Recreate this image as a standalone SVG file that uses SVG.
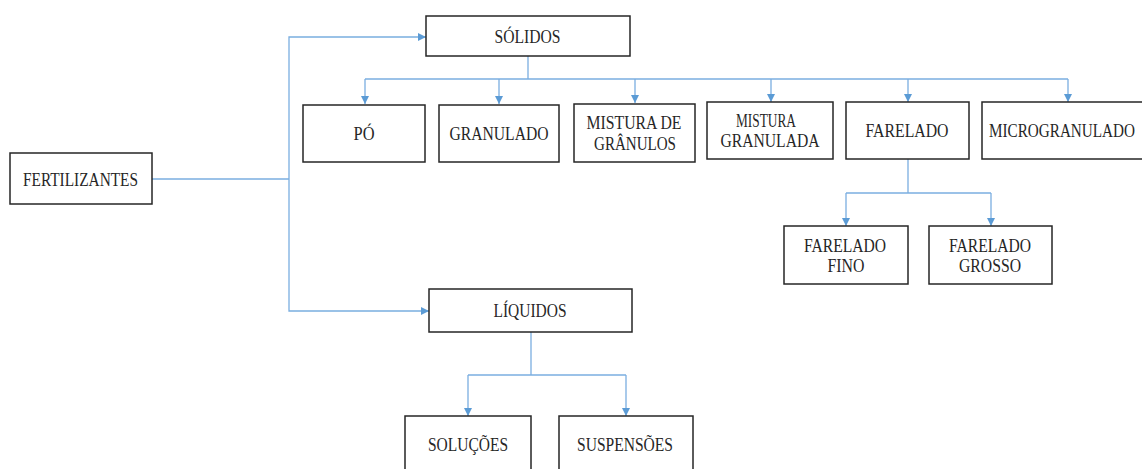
<svg xmlns="http://www.w3.org/2000/svg" width="1142" height="469" viewBox="0 0 1142 469">
<style>
.box{fill:#fff;stroke:#262626;stroke-width:1.5}
.t{font-family:"Liberation Serif","Times New Roman",serif;font-size:18px;fill:#262626;text-anchor:middle}
.c{fill:none;stroke:#7aaee0;stroke-width:1.3}
</style>
<defs>
<marker id="ah" viewBox="0 0 10 10" refX="10" refY="5" markerWidth="8" markerHeight="8" markerUnits="userSpaceOnUse" orient="auto">
<path d="M0,0 L10,5 L0,10 z" fill="#5b9bd5"/>
</marker>
</defs>
<rect width="1142" height="469" fill="#fff"/>
<g id="connectors">
<path class="c" d="M152,179 H289"/>
<path class="c" d="M289,179 V37 H426" marker-end="url(#ah)"/>
<path class="c" d="M289,179 V311 H429" marker-end="url(#ah)"/>
<path class="c" d="M528,56 V79"/>
<path class="c" d="M365,79 H1068"/>
<path class="c" d="M365,79 V104" marker-end="url(#ah)"/>
<path class="c" d="M499,79 V104" marker-end="url(#ah)"/>
<path class="c" d="M635,79 V103" marker-end="url(#ah)"/>
<path class="c" d="M771,79 V102" marker-end="url(#ah)"/>
<path class="c" d="M908,79 V102" marker-end="url(#ah)"/>
<path class="c" d="M1068,79 V102" marker-end="url(#ah)"/>
<path class="c" d="M908,159 V193"/>
<path class="c" d="M846,193 H991"/>
<path class="c" d="M846,193 V226" marker-end="url(#ah)"/>
<path class="c" d="M991,193 V226" marker-end="url(#ah)"/>
<path class="c" d="M531,332 V375"/>
<path class="c" d="M468,375 H626"/>
<path class="c" d="M468,375 V416" marker-end="url(#ah)"/>
<path class="c" d="M626,375 V416" marker-end="url(#ah)"/>
</g>
<g id="fertilizantes"><rect class="box" x="10" y="153" width="142" height="51"/><text class="t" x="80.5" y="186" textLength="115" lengthAdjust="spacingAndGlyphs">FERTILIZANTES</text></g>
<g id="solidos"><rect class="box" x="426" y="16" width="204" height="40"/><text class="t" x="527.5" y="43" textLength="66" lengthAdjust="spacingAndGlyphs">SÓLIDOS</text></g>
<g id="po"><rect class="box" x="303" y="105" width="122" height="57"/><text class="t" x="364" y="140" textLength="21" lengthAdjust="spacingAndGlyphs">PÓ</text></g>
<g id="granulado"><rect class="box" x="439" y="105" width="120" height="57"/><text class="t" x="499" y="140" textLength="99" lengthAdjust="spacingAndGlyphs">GRANULADO</text></g>
<g id="mistura-graos"><rect class="box" x="574" y="104" width="121" height="58"/><text class="t" x="634" y="129" textLength="95" lengthAdjust="spacingAndGlyphs">MISTURA DE</text><text class="t" x="635" y="150" textLength="82" lengthAdjust="spacingAndGlyphs">GRÂNULOS</text></g>
<g id="mistura-granulada"><rect class="box" x="707" y="102" width="126" height="57"/><text class="t" x="766" y="127" textLength="60" lengthAdjust="spacingAndGlyphs">MISTURA</text><text class="t" x="770" y="147" textLength="99" lengthAdjust="spacingAndGlyphs">GRANULADA</text></g>
<g id="farelado"><rect class="box" x="846" y="102" width="123" height="57"/><text class="t" x="907" y="137" textLength="83" lengthAdjust="spacingAndGlyphs">FARELADO</text></g>
<g id="microgranulado"><rect class="box" x="982" y="102" width="170" height="57"/><text class="t" x="1062" y="137" textLength="146" lengthAdjust="spacingAndGlyphs">MICROGRANULADO</text></g>
<g id="farelado-fino"><rect class="box" x="784" y="226" width="124" height="58"/><text class="t" x="845" y="252" textLength="82" lengthAdjust="spacingAndGlyphs">FARELADO</text><text class="t" x="846" y="272" textLength="37" lengthAdjust="spacingAndGlyphs">FINO</text></g>
<g id="farelado-grosso"><rect class="box" x="929" y="226" width="123" height="58"/><text class="t" x="990" y="252" textLength="82" lengthAdjust="spacingAndGlyphs">FARELADO</text><text class="t" x="990" y="272" textLength="62" lengthAdjust="spacingAndGlyphs">GROSSO</text></g>
<g id="liquidos"><rect class="box" x="429" y="289" width="203" height="43"/><text class="t" x="530" y="317" textLength="73" lengthAdjust="spacingAndGlyphs">LÍQUIDOS</text></g>
<g id="solucoes"><rect class="box" x="405" y="416" width="126" height="70"/><text class="t" x="468" y="451" textLength="80" lengthAdjust="spacingAndGlyphs">SOLUÇÕES</text></g>
<g id="suspensoes"><rect class="box" x="559" y="416" width="134" height="70"/><text class="t" x="625" y="451" textLength="96" lengthAdjust="spacingAndGlyphs">SUSPENSÕES</text></g>
</svg>
